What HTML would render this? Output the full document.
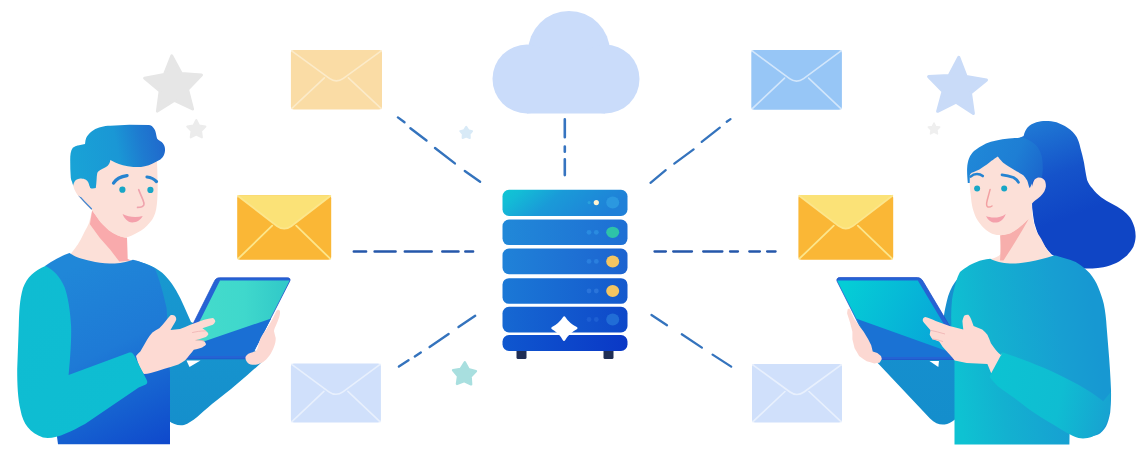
<!DOCTYPE html>
<html><head><meta charset="utf-8"><title>Mail server illustration</title>
<style>html,body{margin:0;padding:0;background:#ffffff;}body{width:1144px;height:464px;overflow:hidden;font-family:"Liberation Sans",sans-serif;}svg{display:block;filter:blur(0.3px);}</style>
</head><body>
<svg width="1144" height="464" viewBox="0 0 1144 464">
<rect width="1144" height="464" fill="#ffffff"/>

<defs>
<linearGradient id="gCloud" x1="0" y1="0" x2="0" y2="1"><stop offset="0" stop-color="#cddffb"/><stop offset="1" stop-color="#c8dbfa"/></linearGradient>
<linearGradient id="gR1" x1="0" y1="0" x2="1" y2="0.25"><stop offset="0" stop-color="#10c6d4"/><stop offset="0.15" stop-color="#13bcd6"/><stop offset="0.47" stop-color="#1a9ad8"/><stop offset="1" stop-color="#1f80d8"/></linearGradient>
<linearGradient id="gR2" x1="0" y1="0" x2="1" y2="0"><stop offset="0" stop-color="#2188d8"/><stop offset="1" stop-color="#1e6fd4"/></linearGradient>
<linearGradient id="gR3" x1="0" y1="0" x2="1" y2="0"><stop offset="0" stop-color="#2082d8"/><stop offset="1" stop-color="#1c63d0"/></linearGradient>
<linearGradient id="gR4" x1="0" y1="0" x2="1" y2="0"><stop offset="0" stop-color="#1b78d6"/><stop offset="1" stop-color="#1459cd"/></linearGradient>
<linearGradient id="gR5" x1="0" y1="0" x2="1" y2="0"><stop offset="0" stop-color="#1668d2"/><stop offset="1" stop-color="#0e48c9"/></linearGradient>
<linearGradient id="gR6" x1="0" y1="0" x2="1" y2="0"><stop offset="0" stop-color="#0f57cf"/><stop offset="1" stop-color="#0a38c6"/></linearGradient>
<linearGradient id="gMHair" gradientUnits="userSpaceOnUse" x1="70" y1="160" x2="165" y2="140"><stop offset="0" stop-color="#19a3d6"/><stop offset="0.5" stop-color="#1a97d5"/><stop offset="0.75" stop-color="#1e7bd0"/><stop offset="1" stop-color="#2067cc"/></linearGradient>
<linearGradient id="gMBody" gradientUnits="userSpaceOnUse" x1="75" y1="265" x2="165" y2="444"><stop offset="0" stop-color="#2087d8"/><stop offset="0.45" stop-color="#1e7ad6"/><stop offset="0.75" stop-color="#1560d0"/><stop offset="1" stop-color="#0f49cc"/></linearGradient>
<linearGradient id="gMArmF" x1="0" y1="0" x2="1" y2="1"><stop offset="0" stop-color="#0fbcd2"/><stop offset="1" stop-color="#0ebed2"/></linearGradient>
<linearGradient id="gMArmB" x1="0" y1="0" x2="0" y2="1"><stop offset="0" stop-color="#1899d0"/><stop offset="1" stop-color="#158fcc"/></linearGradient>
<linearGradient id="gScreenM" x1="0" y1="0" x2="1" y2="0"><stop offset="0" stop-color="#46dccb"/><stop offset="0.58" stop-color="#3fd8cc"/><stop offset="0.86" stop-color="#35cdc9"/><stop offset="1" stop-color="#30c8c9"/></linearGradient>
<linearGradient id="gScreenW" gradientUnits="userSpaceOnUse" x1="845" y1="285" x2="945" y2="330"><stop offset="0" stop-color="#05cdd6"/><stop offset="1" stop-color="#08a6d8"/></linearGradient>
<linearGradient id="gWHair" gradientUnits="userSpaceOnUse" x1="970" y1="140" x2="1043" y2="175"><stop offset="0" stop-color="#2089d8"/><stop offset="0.6" stop-color="#1e7ed4"/><stop offset="1" stop-color="#1b66cd"/></linearGradient>
<linearGradient id="gWPony" gradientUnits="userSpaceOnUse" x1="1040" y1="122" x2="1075" y2="215"><stop offset="0" stop-color="#1f78d4"/><stop offset="0.55" stop-color="#1553ca"/><stop offset="1" stop-color="#0f45c5"/></linearGradient>
<linearGradient id="gWBody" gradientUnits="userSpaceOnUse" x1="955" y1="380" x2="1100" y2="360"><stop offset="0" stop-color="#0ec2d2"/><stop offset="0.3" stop-color="#13b1d0"/><stop offset="0.75" stop-color="#179fd2"/><stop offset="1" stop-color="#1798d2"/></linearGradient>
<linearGradient id="gWFore" gradientUnits="userSpaceOnUse" x1="995" y1="360" x2="1112" y2="385"><stop offset="0" stop-color="#0cc3d2"/><stop offset="0.6" stop-color="#0fbdd2"/><stop offset="1" stop-color="#17a4d1"/></linearGradient>
<linearGradient id="gWArmB" x1="0" y1="0" x2="0" y2="1"><stop offset="0" stop-color="#1790d0"/><stop offset="1" stop-color="#148ecc"/></linearGradient>
</defs>
<polygon points="171.8,55.9 181.4,73.6 201.5,74.9 187.6,89.5 192.6,109.0 174.5,100.3 157.4,111.1 160.1,91.1 144.6,78.2 164.4,74.6" fill="#e6e6e6" stroke="#e6e6e6" stroke-width="3" stroke-linejoin="round"/>
<polygon points="196.3,120.0 199.2,125.6 205.4,126.6 201.1,131.1 201.9,137.4 196.3,134.6 190.7,137.4 191.5,131.1 187.2,126.6 193.4,125.6" fill="#ececec" stroke="#ececec" stroke-width="2" stroke-linejoin="round"/>
<polygon points="958.8,57.3 966.2,76.5 986.5,80.0 970.5,93.0 973.4,113.4 956.1,102.2 937.6,111.3 943.0,91.4 928.6,76.6 949.2,75.5" fill="#c9dbf8" stroke="#c9dbf8" stroke-width="3" stroke-linejoin="round"/>
<polygon points="934.0,123.0 935.8,126.6 939.7,127.1 936.9,129.9 937.5,133.9 934.0,132.0 930.5,133.9 931.1,129.9 928.3,127.1 932.2,126.6" fill="#efefef" stroke="#efefef" stroke-width="1.5" stroke-linejoin="round"/>
<polygon points="466.2,126.8 468.3,130.1 472.1,131.1 469.6,134.1 469.8,138.0 466.2,136.6 462.6,138.0 462.8,134.1 460.3,131.1 464.1,130.1" fill="#d8eaf7" stroke="#d8eaf7" stroke-width="2" stroke-linejoin="round"/>
<polygon points="464.8,362.4 468.5,369.2 475.9,371.1 470.6,376.7 471.1,384.3 464.2,381.0 457.0,383.9 458.1,376.2 453.1,370.3 460.7,368.9" fill="#a8dfdf" stroke="#a8dfdf" stroke-width="2.5" stroke-linejoin="round"/>
<g fill="#cadcfa">
<circle cx="569" cy="52" r="41"/>
<circle cx="527" cy="79" r="34.5"/>
<circle cx="605" cy="79" r="34.5"/>
<rect x="527" y="50" width="78" height="63.5"/>
</g>
<path d="M397.9,117.4 L404.5,122.3 M410.4,128.2 L426.5,140.5 M435.0,148.0 L454.9,163.4 M464.8,170.9 L480.1,181.8" stroke="#3473bd" stroke-width="2.4" stroke-linecap="round" fill="none"/>
<path d="M475.2,315.8 L458.5,327.1 M448.6,334.0 L429.6,347.0 M420.8,352.4 L414.8,356.4 M408.5,360.2 L398.9,366.5" stroke="#3473bd" stroke-width="2.4" stroke-linecap="round" fill="none"/>
<path d="M650.5,182.8 L665.7,170.2 M674.3,163.6 L693.6,149.4 M701.7,141.8 L719.8,127.6 M726.7,121.7 L730.5,119.1" stroke="#3473bd" stroke-width="2.3" stroke-linecap="round" fill="none"/>
<path d="M651.5,315.0 L667.0,325.2 M681.8,334.3 L701.9,347.6 M712.6,354.6 L731.2,366.6" stroke="#3473bd" stroke-width="2.3" stroke-linecap="round" fill="none"/>
<path d="M564.8,119.4 L564.8,137.2 M564.8,146.6 L564.8,151.8 M564.8,159.2 L564.8,175.1" stroke="#3674c0" stroke-width="2.6" stroke-linecap="round" fill="none"/>
<path d="M353.8,251.5 L366.1,251.5 M374.6,251.5 L395.6,251.5 M404.8,251.5 L431.7,251.5 M442.3,251.5 L458.5,251.5 M465.3,251.5 L473.1,251.5" stroke="#2557aa" stroke-width="2.5" stroke-linecap="round" fill="none"/>
<path d="M654.5,251.5 L665.9,251.5 M673.2,251.5 L692.0,251.5 M703.2,251.5 L722.4,251.5 M730.0,251.5 L738.0,251.5 M749.3,251.5 L759.9,251.5 M767.1,251.5 L775.6,251.5" stroke="#2557aa" stroke-width="2.3" stroke-linecap="round" fill="none"/>
<rect x="290.9" y="50.1" width="91.1" height="59.3" rx="3" fill="#fadca5"/>
<path d="M291.7,50.9 L329.4,78.4 Q336.45,83.4 343.4,78.4 L381.2,50.9" fill="none" stroke="#fcebc9" stroke-width="1.6" stroke-linejoin="round" stroke-linecap="round"/>
<path d="M291.9,108.4 L324.4,77.9 M381.0,108.4 L348.4,77.9" fill="none" stroke="#fcebc9" stroke-width="1.6" stroke-linecap="round"/>
<rect x="237.2" y="195.2" width="94.0" height="64.5" rx="3" fill="#fab736"/>
<path d="M237.5,195.2 L277.2,226.2 Q284.2,231.2 291.2,226.2 L330.9,195.2 Z" fill="#fbe277"/>
<path d="M238.0,196.0 L277.2,226.2 Q284.2,231.2 291.2,226.2 L330.4,196.0" fill="none" stroke="#fce68c" stroke-width="1.8" stroke-linejoin="round" stroke-linecap="round"/>
<path d="M238.2,258.7 L272.2,225.7 M330.2,258.7 L296.2,225.7" fill="none" stroke="#fce68c" stroke-width="1.8" stroke-linecap="round"/>
<rect x="290.9" y="363.6" width="90.0" height="59.0" rx="3" fill="#d0e0fb"/>
<path d="M291.7,364.4 L328.9,391.8 Q335.9,396.8 342.9,391.8 L380.1,364.4" fill="none" stroke="#e8f0fd" stroke-width="1.6" stroke-linejoin="round" stroke-linecap="round"/>
<path d="M291.9,421.6 L323.9,391.3 M379.9,421.6 L347.9,391.3" fill="none" stroke="#e8f0fd" stroke-width="1.6" stroke-linecap="round"/>
<rect x="751.3" y="50.1" width="90.6" height="59.6" rx="3" fill="#97c6f6"/>
<path d="M752.1,50.9 L789.6,78.6 Q796.5999999999999,83.6 803.6,78.6 L841.1,50.9" fill="none" stroke="#d2e6fb" stroke-width="1.6" stroke-linejoin="round" stroke-linecap="round"/>
<path d="M752.3,108.7 L784.6,78.1 M840.9,108.7 L808.6,78.1" fill="none" stroke="#d2e6fb" stroke-width="1.6" stroke-linecap="round"/>
<rect x="798.4" y="194.9" width="94.8" height="64.8" rx="3" fill="#fab736"/>
<path d="M798.7,194.9 L838.8,226.1 Q845.8,231.1 852.8,226.1 L892.9,194.9 Z" fill="#fbe277"/>
<path d="M799.2,195.7 L838.8,226.1 Q845.8,231.1 852.8,226.1 L892.4,195.7" fill="none" stroke="#fce68c" stroke-width="1.8" stroke-linejoin="round" stroke-linecap="round"/>
<path d="M799.4,258.7 L833.8,225.6 M892.2,258.7 L857.8,225.6" fill="none" stroke="#fce68c" stroke-width="1.8" stroke-linecap="round"/>
<rect x="752" y="364" width="90.0" height="58.6" rx="3" fill="#d0e0fb"/>
<path d="M752.8,364.8 L790.0,392.0 Q797.0,397.0 804.0,392.0 L841.2,364.8" fill="none" stroke="#e8f0fd" stroke-width="1.6" stroke-linejoin="round" stroke-linecap="round"/>
<path d="M753.0,421.6 L785.0,391.5 M841.0,421.6 L809.0,391.5" fill="none" stroke="#e8f0fd" stroke-width="1.6" stroke-linecap="round"/>
<rect x="516.5" y="348" width="10" height="11" rx="1.5" fill="#1f2e55"/>
<rect x="603.5" y="348" width="10" height="11" rx="1.5" fill="#1f2e55"/>
<rect x="502.5" y="189.8" width="125" height="26.2" rx="6.5" fill="url(#gR1)"/>
<rect x="502.5" y="219.5" width="125" height="25.6" rx="6.5" fill="url(#gR2)"/>
<rect x="502.5" y="248.6" width="125" height="25.6" rx="6.5" fill="url(#gR3)"/>
<rect x="502.5" y="278.2" width="125" height="25.6" rx="6.5" fill="url(#gR4)"/>
<rect x="502.5" y="306.8" width="125" height="25.6" rx="6.5" fill="url(#gR5)"/>
<rect x="502.5" y="335" width="125" height="16.0" rx="6.5" fill="url(#gR6)"/>
<ellipse cx="612.7" cy="202.5" rx="6.5" ry="6" fill="#2b98e0"/>
<circle cx="596.3" cy="202.6" r="2.6" fill="#fff3d0"/>
<circle cx="589.2" cy="202.6" r="1.6" fill="#2aa0dc"/>
<ellipse cx="612.7" cy="232.3" rx="6.5" ry="5.6" fill="#2ec3a8"/>
<circle cx="589" cy="232.3" r="2.4" fill="#2a8be0"/><circle cx="596.3" cy="232.3" r="2.4" fill="#2a8be0"/>
<ellipse cx="612.7" cy="261.4" rx="6.5" ry="6" fill="#f4c561"/>
<circle cx="589" cy="261.4" r="2.4" fill="#2a7fde"/><circle cx="596.3" cy="261.4" r="2.4" fill="#2a7fde"/>
<ellipse cx="612.7" cy="291" rx="6.5" ry="6" fill="#f4c561"/>
<circle cx="589" cy="291" r="2.4" fill="#2a74da"/><circle cx="596.3" cy="291" r="2.4" fill="#2a74da"/>
<ellipse cx="612.7" cy="319.5" rx="6.5" ry="6" fill="#216dd6"/>
<circle cx="589" cy="319.5" r="2.4" fill="#1d5fd3"/><circle cx="596.3" cy="319.5" r="2.4" fill="#1d5fd3"/>
<path d="M564.2,317.6 Q568.3,324.1 576.2,328.2 Q568.3,332.3 564,339.6 Q560,332.3 552.6,328.2 Q560,324.1 564.2,317.6 Z" fill="#ffffff" stroke="#ffffff" stroke-width="2.6" stroke-linejoin="round"/>
<g id="man">
<!-- back arm -->
<path d="M136,261 C145,263 152,266 156,268.5 C161,271.5 164,274 166.6,277.2 C170.5,281.5 173.5,286 176.3,290.7 C179.3,295.8 181.8,301 184,306.3 L191,322 L258,352 L262,362 C250,373 232,389 212,404 C200,414 193,422 184,425 C178,426 173,424 169,421 L160,300 Z" fill="url(#gMArmB)"/>
<!-- neck -->
<path d="M71,253.6 C76,247 80,242 83.1,234.7 C86,229 88,226 89.2,222.6 L92.2,209.8 L127,237.7 L127.6,258.9 L133,262 L133,268 L70,268 L71,253.6 Z" fill="#fce0d8"/>
<path d="M92.2,210.6 L99.7,221.1 L108.8,230.2 L117.8,235.5 L125.4,237.7 L127,237.7 L127.6,258.9 L131.4,260.4 L119.3,261.6 L110.3,249.8 L99.7,237.7 L89.9,224.2 Z" fill="#f9aaac"/>
<!-- body -->
<path d="M69.5,253 C74,256 77.5,257.5 80.1,258.3 C85,259.8 90,261 95.2,261.9 C101.5,262.9 108,263.4 114.8,263.4 C118.5,263.3 122,262.8 125.4,262 C128,261.3 130.5,260.6 132.9,259.7 C135.2,260.2 137.4,260.8 139.4,261.6 C145,263.5 150,265.8 154.9,268.4 C159,278 163,292 166.6,308 C168,330 169.5,360 170,372 L170,444.3 L58,444.3 L52,400 L45,266 C52,261 61,256 69.5,253 Z" fill="url(#gMBody)"/>
<!-- face -->
<path d="M74,186 L76,176 L96,170 L110,158 L157,160 L157.7,185.5 C157.6,197 157.2,204 156.2,209 C155,215 153,219 150.5,221.7 C146,227 142,230.5 137.6,232.5 C134,234.5 130,236.5 125.4,237.7 C120,237 112,233 108.8,230.2 C104,226 101,223 99.7,221.1 L92.2,210.6 C88,207 84,203 81.8,200.1 C79,197 77,194 76,191 Z" fill="#fce0d8"/>
<!-- jaw back line -->
<path d="M79,195.7 C83,200.5 87.5,205 91.4,208.7" stroke="#3f86d2" stroke-width="1.3" fill="none" stroke-linecap="round"/>
<!-- hair -->
<path d="M70.8,178 C70.3,172 70.2,166 70.2,160 C70.2,155 70.5,151 72.8,147.7 C75,146 77.9,145.4 77.9,145.4 L85,143.9 C85.5,139 86.5,136.5 88.3,134.8 C90,132.5 92,131 93.4,130.3 C96,128.5 98.5,127.5 101.2,127 C104,126.2 107,125.9 110.3,125.8 L129.4,124.7 L148.8,125.1 C151,125.5 152,126 152.7,127 C154,128.5 154.8,129.5 155.3,130.9 C156.3,134 156.5,137 157.2,138.7 C158.5,140.3 160,141 161.7,141.9 C163,143 164,144.5 164.3,145.8 C165,147.5 165.1,149 165,150.3 C164.9,152.5 164.5,154 163.7,155.5 C162.7,157.2 161.8,158.2 160.4,159.4 C159,160.3 158,160.8 156.6,161.5 C154,163 151.5,164.2 148.8,165.2 C146,166 143.5,166.6 141,166.9 L133.3,166.9 C129.5,166.6 126,166 122.9,165.2 C120,164.5 117.6,163.6 115.2,162.6 L110.3,160 C110,162.5 109.2,164 107.7,165.8 C105.5,167.5 103,168.3 99.9,170.3 C98.5,171.2 97.8,172 97.3,172.9 C96.8,175 96.7,177 96.6,179.4 C96.4,182 96.2,185 95.8,188 C94,188.6 92,188.6 90.3,188.2 L87,183 L81,181 L76,182.5 L73.5,186 C72.8,184.8 72.3,183.5 72.1,182 C71.4,180.5 71,179.5 70.8,178 Z" fill="url(#gMHair)"/>
<!-- ear -->
<path d="M73.1,185.5 C74,182 75.5,180 76.9,179.6 C78.5,178.8 80,178.5 81.2,178.5 C83,178.6 84.5,179 85.5,179.6 C86.8,180.4 87.7,181.3 88.2,182.3 C88.8,183.4 89.1,184.5 89.3,185.5 C89.7,186.5 90,187.5 90.3,188.2 L92,190 L90,195 C87,197 82,198 79,196.3 C76.5,194 74.7,191 73.1,185.5 Z" fill="#fce0d8"/>
<!-- eyebrows -->
<path d="M113.6,183 C116,179 120.5,176.5 127,175.6" stroke="#2583d0" stroke-width="3.4" fill="none" stroke-linecap="round"/>
<path d="M147,177 C150.8,177.4 154.2,179 156.5,181.6" stroke="#2583d0" stroke-width="3.2" fill="none" stroke-linecap="round"/>
<!-- eyes -->
<circle cx="122.4" cy="189.7" r="3.1" fill="#18a6c6"/>
<circle cx="150.4" cy="189.9" r="3.1" fill="#18a6c6"/>
<!-- nose -->
<path d="M138.7,189.7 C139.6,192 141.5,196.5 142.8,199.5 C143.8,201.8 144.3,203.5 143.8,205 C143,206.8 140.5,207.4 137.6,207.4" stroke="#efa3ad" stroke-width="1.7" fill="none" stroke-linecap="round"/>
<!-- mouth -->
<path d="M122.6,214 C128,217 136,218 142.7,216 C140.5,220 137,222.4 132.2,222.4 C127.5,222.2 124.3,218.5 122.6,214 Z" fill="#f4a0ab"/>
<!-- tablet -->
<path d="M214.3,281.5 C215.3,279.2 216.8,277.8 219.5,277.8 L287.8,277.8 C289.6,277.8 290.6,279.3 289.8,281 L250,358.8 L175.6,358.8 Z" fill="#2563d4" stroke="#2352c9" stroke-width="0.8" stroke-linejoin="round"/>
<path d="M220,280.6 L289.6,280.6 L251.2,356 L182.2,356 Z" fill="url(#gScreenM)"/>
<path d="M187.7,347 L271.2,318.5 L251.2,356 L182.2,356 Z" fill="#1a6fd4"/>
<path d="M186.5,360.5 L200.5,360.5 L189.5,367 Z" fill="#ffffff"/>
<!-- right hand on tablet -->
<path d="M278.3,309.7 C279.6,310.2 280.3,311 280,312.2 C280,314 279.6,316 279.1,317.4 C278,320.5 276.8,323.5 275.7,326 C274.6,328.2 274,330 274,331.2 C274.4,333.5 275.3,335.8 275.7,338.1 C275.8,341 275.2,344 274,346.7 C272.7,350 271.3,352.8 269.7,355.3 C267.5,358.3 265.5,360.5 262.8,362.2 C259.5,364 256,365 252.4,364.8 C250,364.5 248.3,363.5 247.2,362.2 C245.8,360.5 245.3,358.8 245.5,357.1 C246.3,355.4 247.6,354.3 249,353.6 C251.5,352.5 254,351.8 255.9,351 C257.3,349.3 258,347.2 258.4,345 C259,343 259.5,341 260.2,339 C261.8,335.5 264,332.5 266.2,329.5 C268,326.7 269.8,323.7 271.4,320.9 C273,318 274.5,315 275.7,312.2 C276.3,310.8 277.2,309.8 278.3,309.7 Z" fill="#fcd8d2"/>
<!-- pointing hand -->
<path d="M136,355.9 C137.5,354.3 138.9,352.9 140.3,351.6 C142.7,347.5 144.9,343.5 147.2,339.5 C148.8,337 150.5,334.7 152.4,332.6 C154.6,330.8 156.9,329.5 159.3,328.3 C161.5,326 163.4,323.7 165.3,321.4 C167,319.3 168.7,317.2 170.5,315.3 C172,314.8 173.6,314.9 174.8,315.7 C175.9,316.8 176.4,318.2 176.2,319.7 C175.6,321.2 174.8,322.6 174,324 C172.8,326 171.6,328 170.5,330 C173.7,329.9 176.9,329.6 180,329.1 C183.5,327.8 186.9,326.3 190.3,324.8 C194.9,322.9 199.5,321.2 204.1,319.7 C207,318.8 209.9,318.2 212.8,317.9 C214.1,318.6 215.3,319.8 215.3,321.4 C214.7,322.9 213.8,324 212.8,324.8 C209.4,326 205.9,327.2 202.4,328.3 C203.6,329.2 205,330 205.9,330.9 C207.3,331.8 208.4,333 208.4,334.3 C207.8,335.5 206.9,336.3 205.9,336.9 C202.4,338 198.9,339.1 195.5,340.3 C198.4,340.5 201.3,340.7 204.1,341.2 C205.3,342.2 206.1,343.4 205.9,344.7 C204.6,346 202.7,347.2 200.7,348.1 C198.4,348.7 196.1,349.3 193.8,349.8 C192.4,351.6 191,353.3 189.5,355 C188.1,356.8 186.7,358.5 185.2,360.2 C183,361.8 180.7,363.3 178.3,364.5 C173.7,366 169.1,367.4 164.5,368.8 C159.9,370.3 155.3,371.8 150.7,373.1 C148.4,373.6 146.1,374 143.8,374 C142.1,371.8 140.8,369.5 139.5,367 C138.2,363.4 137,359.7 136,355.9 Z" fill="#fddad3"/>
<path d="M192.1,332.6 C196,331.8 200,330.8 205.9,330.9 M195.5,340.3 C198,340 201,340.2 204.1,341.2" stroke="#f0b5b5" stroke-width="0.9" fill="none"/>
<!-- front arm -->
<path d="M45.3,265.9 C35,270 27,277 23,288 C19.5,300 19.2,312 18.8,325 L17.2,369.3 C17.2,385 17.8,398 20.5,410 C23,424 30,433 43,437.5 C55,440 70,432 85,424 L138.7,387.6 L145.8,384.6 C147.3,383.6 147.6,382 146.8,380.3 L134.8,356.6 C134,355.2 133.2,354 132.2,353.1 C131,352.4 129.5,352.5 128,353 L68.6,375 C70.5,355 71.5,338 71.1,326.2 C70.2,310 68,297 64.7,287.4 C60.5,277 53,269 45.3,265.9 Z" fill="url(#gMArmF)"/>
</g>

<g id="woman">
<!-- ponytail -->
<path d="M1016,139.5 L1023.6,136 C1024.5,132 1026,129.5 1027.3,127.8 C1030,125 1033,123.3 1036.4,122.3 C1039.5,121.3 1042.5,120.9 1045.6,120.9 C1049.5,120.9 1053,121.3 1056.5,122.3 C1060.5,123.7 1064,125.5 1067.5,127.8 C1071.5,130.5 1074.5,133.5 1076.7,137 C1078.5,140.5 1079.6,144 1080.4,148 C1081.8,152.8 1083,157.5 1084,162.6 C1085,169 1086,175 1087.1,180 C1088.5,183.5 1090.3,186.3 1092.5,188.6 C1095,192 1098,195 1101.1,197.2 C1104.5,199.6 1108.2,201.7 1111.9,203.7 C1115.6,205.7 1119.3,207.8 1122.7,210.2 C1125.5,212.5 1128.1,214.9 1130.2,217.7 C1132.1,220.7 1133.5,224 1134.5,227.4 C1135.3,230.6 1135.7,233.8 1135.6,237.1 C1135.4,240.4 1134.6,243.7 1133.4,246.8 C1131.7,249.9 1129.5,252.8 1127,255.4 C1123.7,258.3 1120.1,260.9 1116.2,263 C1112.1,264.9 1107.8,266.4 1103.3,267.3 C1099.7,268 1096.1,268.4 1092.5,268.4 L1083.9,268.4 C1078,267 1070,262 1060,257.6 L1058,257.6 C1055.8,256.7 1053.6,255.6 1051.6,254.4 C1049.3,252 1047.1,249.5 1045.1,246.8 C1042.8,243.3 1040.6,239.7 1038.6,236 C1037,231.8 1035.6,227.5 1034.3,223.1 C1033.4,218.1 1032.7,213.1 1032.2,208 L1030,150 L1016,150 Z" fill="url(#gWPony)"/>
<!-- back arm -->
<path d="M970,268.5 C958,275 950,287 946.8,301.3 C945.5,307 944.6,311 944,315.3 L941,330 L880,350 L873,358 L930,418.5 C935,423.5 940,425 944.7,424.4 C948,424 951,422.5 955,419.5 L962,300 Z" fill="url(#gWArmB)"/>
<!-- neck -->
<path d="M999.8,234 C1000.5,241 1000.8,248 1000.5,254 C999,256.5 995,258 990,259.3 L990,268 L1056,268 L1051,255 C1048.5,252 1046.5,249 1045.3,246.8 C1042.5,241 1040,236.5 1037.6,233.2 C1034.5,228 1032,218 1031.8,204 L1025,220 Z" fill="#fce0d8"/>
<path d="M1000.2,235.5 L1010.4,233.2 L1018.2,228.3 L1025.9,221.5 L1028.6,219.2 C1021,233 1012,247 1003.5,260.5 L1000,260.5 C1000.6,252 1000.8,244 1000.2,235.5 Z" fill="#f7aeac"/>
<!-- body -->
<path d="M990.3,258.8 C995,261.2 1002,263.2 1010,263.5 C1017,263.7 1024,262.8 1029.5,261.7 C1038,260 1046,258 1053.1,255.7 C1054,255.7 1055,255.6 1055.5,255.6 C1062,257.5 1069,259.5 1075.7,262 C1081,265 1086,269 1089.8,273.3 C1093.5,278 1096.5,282.5 1098.2,287.3 C1100.5,293 1102.5,298.5 1103.8,304.1 C1105.3,311.5 1106.2,319 1106.6,326.5 L1108.5,350 C1109.5,362 1110.5,376 1111,390 C1111.2,400 1110.8,406 1110.2,412.4 C1109,418.5 1108,422.5 1106,426.4 C1103.5,430.5 1101,433 1097.6,434.8 C1093,436.5 1088.5,437 1083.6,436.2 C1079,435.5 1074,434 1069.6,432 L1069.4,444.6 L954.5,444.6 L954.5,361 C952,340 950,320 952,300 C954,288 957,277 960,272 C962,270 964,268.5 966.9,266.9 C969.5,265 973,263.5 977.2,261.7 C980,260.5 985,259.5 990.3,258.8 Z" fill="url(#gWBody)"/>
<!-- forearm -->
<path d="M1002.4,352.2 C1009,354.5 1016,357 1022,359.2 C1031,362.5 1041,366.5 1050,370.4 C1060,375 1069,379.5 1078,384.4 C1088,390 1096,395.5 1103.2,401.2 L1110.8,392 C1110.7,396 1110.5,400 1110.2,402.6 C1110,408 1109.6,412.5 1108.7,416.2 C1107.5,420.5 1106,424 1104.2,426.8 C1102,430 1099.5,432.5 1096.6,434.3 C1093.7,436.3 1090.7,437.6 1087.5,438.1 C1084.5,438.5 1081.5,438.5 1078.5,438.1 C1074.5,437 1070.5,435 1066.7,432.8 C1062.5,430.3 1058.2,427.7 1054,425.1 C1049.7,422.5 1045.3,419.9 1041,417.3 C1036.7,414.4 1032.3,411.5 1028,408.5 C1023.7,405.2 1019.3,401.8 1015,398.5 C1009.3,394.5 1003.7,390.5 998,386.5 C995,383.5 992,380.3 989.5,377 L991.2,373.2 Z" fill="url(#gWFore)"/>
<!-- face -->
<path d="M969.7,176 C969.5,185 970,190 970.7,194.4 C971.2,200 971.7,204 972.6,208 C973.8,212 975,215.5 976.5,218.6 C978.5,222 980.8,225 983.3,227.4 C985.8,229.8 988.3,231.6 991,233.2 C993.5,234.4 996,235 998.8,235.1 L1001.7,235.1 C1004.6,234.9 1007.6,234.2 1010.4,233.2 C1013.2,231.9 1015.8,230.2 1018.2,228.3 C1021,226 1023.6,224 1025.9,221.5 C1027.6,219 1028.9,216.5 1029.8,213.8 C1030.7,210.5 1031.3,207.3 1031.8,204.1 L1032,176 L1032,150 L990,146 L979,152 L972.5,160 Z" fill="#fce0d8"/>
<!-- front hair -->
<path d="M967.8,183 C967.2,176 967,172 967.1,168.8 C967.3,164 968,161 969,158.4 C970.5,155 972,153 974,151 C977,148.5 981,146 986,143.5 C992,141 1000,139.5 1009,138.5 C1016,138 1020,137.7 1022,137.5 C1025.5,138.3 1029.8,140.5 1032.7,142.5 C1035,144 1036.8,146 1038.2,148 C1039.8,150.8 1041.2,153.8 1041.9,157.1 C1042.6,161.3 1042.9,165.6 1042.8,169.9 L1041.9,178.2 L1038,177 C1034,178.5 1032.5,181 1031.8,184 L1029.8,188.2 C1028.5,186 1028.3,183 1027.2,180.4 C1025.5,177.5 1023.3,175.2 1023.3,175.2 C1020,173 1016.9,171.4 1016.9,171.4 L1009.1,166.8 C1006,165 1002.6,162.3 1002.6,162.3 C1000.5,160 998.8,157.8 998.8,157.8 L997.8,156.4 L995.9,157.8 C992.5,160 989.7,162.3 989.7,162.3 C986,165.5 982,167.5 979.4,169.4 C976,171 973.5,172 971.7,172.8 C970.6,173.6 970,174.4 969.8,175.2 L969.7,183 Z" fill="url(#gWHair)"/>
<!-- ear -->
<path d="M1030.5,188 C1031,187.5 1031.5,187.5 1031.9,187.1 C1032.3,185.5 1032.5,184.5 1032.9,183.3 C1033.5,181.5 1034.2,180 1035.1,179 C1036.3,177.9 1037.6,177.4 1038.9,177.4 C1040.3,177.4 1041.6,177.8 1042.6,178.5 C1044,179.5 1044.9,180.5 1045.3,181.7 C1045.8,183.3 1046,185 1045.9,186.6 C1045.6,188.3 1045.1,189.9 1044.3,191.4 C1043.2,193.1 1041.9,194.8 1040.5,196.3 C1038.8,197.8 1036.9,199.2 1035.1,200.6 C1033.9,201.6 1032.8,202.7 1031.9,203.8 L1029.5,205 Z" fill="#fce0d8"/>

<!-- eyebrows -->
<path d="M970.6,176.6 C972.5,174.8 974.8,174 977,174 C979.3,174 981.3,174.8 982.8,176" stroke="#2483d2" stroke-width="2.6" fill="none" stroke-linecap="round"/>
<path d="M1002,174.8 C1006,175.2 1010.3,176.3 1013.5,177.5 C1015.5,178.6 1017.5,180.3 1018.5,182.3" stroke="#2483d2" stroke-width="2.7" fill="none" stroke-linecap="round"/>
<!-- eyes -->
<circle cx="977.1" cy="188.4" r="3" fill="#18a6c6"/>
<circle cx="1004.2" cy="188.4" r="3" fill="#18a6c6"/>
<!-- nose -->
<path d="M990.1,189.5 C989,193.5 987.8,198 987.2,200.2 C986.5,203 986,205.5 987.5,206.8 C989,207.4 990.5,207 992,206" stroke="#f2a0a2" stroke-width="1.5" fill="none" stroke-linecap="round"/>
<!-- mouth -->
<path d="M986.1,216 C991,218.3 1000,218.3 1005.7,213.9 C1004,219.5 999.5,222.6 994.8,222.6 C990.5,222.4 987.5,219.5 986.1,216 Z" fill="#f4a0ab"/>
<!-- tablet -->
<path d="M839.2,277.6 L917.3,277.6 C919.8,277.6 921.8,279 923,281.3 L969.5,359.5 L876.5,359.5 L837,281 C836.4,279.3 837.6,277.6 839.2,277.6 Z" fill="#2563d4" stroke="#2352c9" stroke-width="0.8" stroke-linejoin="round"/>
<path d="M837.1,280.4 L917.8,280.4 L963.5,357 L875.6,357 Z" fill="url(#gScreenW)"/>
<path d="M856.6,318.8 L963.5,357 L875.6,357 Z" fill="#1a72d4"/>
<path d="M929.5,361 L939,361 L938.3,367 Z" fill="#ffffff"/>
<!-- left hand holding -->
<path d="M847.8,309.1 C849,308.6 849.8,308.8 849.8,309.1 C850.8,310.5 851.4,312 851.6,313.6 C852.6,315.6 853.6,317.6 854.6,319.6 C856.1,321.6 857.6,323.7 859.1,325.7 C860.6,327.7 862.2,329.7 863.7,331.7 C865.2,334.2 866.7,336.8 868.2,339.3 C869.2,341.3 870.2,343.3 871.2,345.3 C871.7,347.3 872.2,349.4 872.7,351.4 C874.2,351.9 875.8,352.4 877.3,352.9 C878.5,353.9 879.8,354.9 881,355.9 C881.3,356.9 881.6,357.9 881.8,358.9 C881.1,360.2 880.3,361.5 879.5,362.7 C877.8,362.9 876,363.2 874.3,363.4 C871.8,362.7 869.2,361.9 866.7,361.2 C864.2,359.4 861.6,357.7 859.1,355.9 C857.6,353.4 856.1,350.8 854.6,348.3 C853.9,345.3 853.1,342.3 852.4,339.3 C852.4,336.8 852.4,334.2 852.4,331.7 C851.6,328.7 850.9,325.7 850.1,322.7 C849.1,319.7 848.1,316.6 847.1,313.6 C847.2,312.1 847.4,310.6 847.8,309.1 Z" fill="#fcd8d2"/>
<!-- pointing hand -->
<path d="M922.8,320.9 C922.5,319 923.5,317.5 925.3,317.1 C928.8,318 932.2,319.6 935.7,320.9 C940.3,322.6 944.9,324.3 949.5,326 C954.1,327.3 958.7,328.5 963.3,329.5 C963,326.6 962.5,323.8 962.4,320.9 C962.8,319 963.4,317.3 964.1,315.7 C965.5,314.8 967,314.6 968.4,314.8 C969.6,316 970.4,317.5 971,319.1 C971.9,321.4 972.8,323.7 973.6,326 C976.5,327.1 979.4,328.3 982.2,329.5 C984.2,331 985.9,332.8 987.4,334.7 C988.8,337.6 989.9,340.5 990.9,343.3 C992.5,345.6 994.2,348 996,350.2 C997.7,352 999.4,353.7 1001.2,355.3 L1002.4,352.5 L991.2,373.2 C990,370.5 988.7,367.3 987.4,364 C980.5,363.7 973.6,363.4 966.7,363.1 C962.7,362.3 958.7,361.4 954.7,360.5 C953.2,358.8 951.8,357 950.3,355.3 C947.7,352.5 945.1,349.6 942.6,346.7 C941.4,345 940.3,343.3 939.1,341.6 C936.8,340.8 934.5,339.9 932.2,339 C931.3,337.6 930.5,336.1 929.7,334.7 C929.9,333.2 930.2,331.8 930.5,330.3 C928.8,328.3 927,326.3 925.3,324.3 C924.4,323.2 923.6,322 922.8,320.9 Z" fill="#fddad3"/>
<path d="M930.5,330.3 C935,331.2 940,332.5 945,334 M932.2,339 C936,339.3 940,340.5 943,341.6" stroke="#f0b5b5" stroke-width="0.9" fill="none"/>
</g>

</svg>
</body></html>
